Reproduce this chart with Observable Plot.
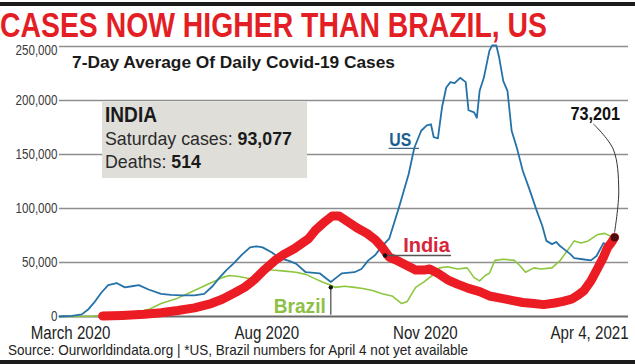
<!DOCTYPE html>
<html><head><meta charset="utf-8">
<script src="https://cdn.jsdelivr.net/npm/d3@7"></script>
<script src="https://cdn.jsdelivr.net/npm/@observablehq/plot@0.6"></script>
<style>
body{margin:0;background:#fff;}
#wrap{position:relative;width:635px;height:364px;overflow:hidden;font-family:"Liberation Sans",Arial,sans-serif;color:#222;}
.abs{position:absolute;white-space:nowrap;line-height:1;transform-origin:0 0;}
</style></head><body>
<div id="wrap">
  <div class="abs" style="left:0;top:2px;width:635px;height:4px;background:#1b1b1b"></div>
  <div class="abs fit" data-w="547" style="left:0;top:11px;line-height:0.8;font-size:35px;font-weight:bold;color:#e31e25;">CASES NOW HIGHER THAN BRAZIL, US</div>
  <div id="chart" class="abs" style="left:0;top:40px"></div>
  <div class="abs fit" data-w="323" style="left:72px;top:54px;font-size:17px;font-weight:bold;color:#1a1a1a;">7-Day Average Of Daily Covid-19 Cases</div>
  <div class="abs" style="left:102px;top:102px;width:205px;height:76px;background:#dfded9"></div>
  <div class="abs fit" data-w="52" style="left:105px;top:104px;font-size:22px;font-weight:bold;color:#1a1a1a;">INDIA</div>
  <div class="abs fit" data-w="187" style="left:105px;top:129px;font-size:19px;color:#2a2a2a;">Saturday cases: <b style="color:#1a1a1a">93,077</b></div>
  <div class="abs fit" data-w="96" style="left:105px;top:152px;font-size:19px;color:#2a2a2a;">Deaths: <b style="color:#1a1a1a">514</b></div>
  <div class="abs fit" data-w="460" style="left:8px;top:342px;font-size:15px;color:#222;">Source: Ourworldindata.org | *US, Brazil numbers for April 4 not yet available</div>
  <div class="abs" style="left:0;top:360px;width:635px;height:4px;background:#1b1b1b"></div>
</div>
<script>
// ---- data (values in thousands of cases, 7-day average) ----
const usDates = ["2020-03-01","2020-03-10","2020-03-17","2020-03-22","2020-03-26","2020-03-31","2020-04-05","2020-04-11","2020-04-17","2020-04-22","2020-04-27","2020-05-04","2020-05-13","2020-05-20","2020-05-28","2020-06-06","2020-06-13","2020-06-19","2020-06-24","2020-06-29","2020-07-04","2020-07-10","2020-07-16","2020-07-21","2020-07-25","2020-08-01","2020-08-06","2020-08-12","2020-08-18","2020-08-25","2020-09-04","2020-09-12","2020-09-16","2020-09-20","2020-09-29","2020-10-04","2020-10-09","2020-10-14","2020-10-18","2020-10-24","2020-10-31","2020-11-07","2020-11-11","2020-11-16","2020-11-20","2020-11-23","2020-11-25","2020-11-28","2020-12-01","2020-12-04","2020-12-07","2020-12-10","2020-12-14","2020-12-18","2020-12-20","2020-12-24","2020-12-26","2020-12-28","2020-12-31","2021-01-04","2021-01-06","2021-01-09","2021-01-11","2021-01-14","2021-01-17","2021-01-20","2021-01-24","2021-01-28","2021-02-02","2021-02-07","2021-02-11","2021-02-14","2021-02-18","2021-02-21","2021-02-24","2021-02-28","2021-03-03","2021-03-06","2021-03-12","2021-03-18","2021-03-22","2021-03-27","2021-03-31","2021-04-03"];
const usCasesK = [0,0.5,2,7,13,22,29,31,27,28,29,25,21,20,19.5,19.5,21,28,36,43,49,57,64,65,64,59,54,52,49,41,40,32,36,40,41,44,52,57,64,72,101,132,156,172,177,178,166,165,194,212,217,216,221,217,191,189,184,209,221,246,251,251,240,218,209,172,155,135,117,98,84,70,67,69,65,61,58,54,53,52,56,68,66,67];

const brazilDates = ["2020-03-01","2020-03-25","2020-04-10","2020-04-25","2020-05-05","2020-05-13","2020-05-25","2020-06-06","2020-06-16","2020-06-26","2020-07-01","2020-07-08","2020-07-16","2020-07-22","2020-07-25","2020-08-01","2020-08-10","2020-08-18","2020-08-25","2020-08-30","2020-09-06","2020-09-12","2020-09-15","2020-09-22","2020-09-29","2020-10-05","2020-10-12","2020-10-19","2020-10-26","2020-11-02","2020-11-06","2020-11-12","2020-11-18","2020-11-24","2020-11-29","2020-12-05","2020-12-12","2020-12-19","2020-12-24","2020-12-28","2021-01-01","2021-01-04","2021-01-08","2021-01-14","2021-01-22","2021-01-26","2021-01-30","2021-02-05","2021-02-10","2021-02-18","2021-02-24","2021-03-01","2021-03-06","2021-03-11","2021-03-16","2021-03-23","2021-03-28","2021-04-03"];
const brazilCasesK = [0,0.3,1.5,4,7,12,17,24,30,36,38,37,35,40,44,43,42,41,39,36,32,29,27,28,27,26,24,21,19,12,14,27,32,38,45,46,44,45,36,33,38,40,52,53,52,47,41,45,44,45,52,61,70,68,70,76,77,73];

const indiaDates = ["2020-04-01","2020-04-15","2020-05-01","2020-05-13","2020-05-25","2020-06-06","2020-06-18","2020-06-26","2020-07-05","2020-07-12","2020-07-19","2020-07-26","2020-08-03","2020-08-10","2020-08-17","2020-08-27","2020-09-01","2020-09-08","2020-09-13","2020-09-18","2020-09-24","2020-10-01","2020-10-08","2020-10-14","2020-10-19","2020-10-24","2020-10-31","2020-11-06","2020-11-12","2020-11-18","2020-11-22","2020-11-28","2020-12-05","2020-12-12","2020-12-20","2020-12-28","2021-01-04","2021-01-12","2021-01-20","2021-01-28","2021-02-05","2021-02-12","2021-02-20","2021-02-26","2021-03-04","2021-03-09","2021-03-13","2021-03-18","2021-03-23","2021-03-27","2021-03-30","2021-04-02","2021-04-04"];
const indiaCasesK = [0.5,1,2,3.5,5.5,8,12,16,22,27,34,43,52,58,63,72,80,88,93,93,88,82,77,71,64,55,51,47,43,43,44,40,34,30,26,23,19,17,15,13,12,11,12.5,14,16,20,24,33,45,55,64,69,73.201];

const yTicks = [0, 50000, 100000, 150000, 200000, 250000];
const tickDates = ["2020-03-09","2020-07-28","2020-11-19","2021-03-17"];
const tickLabels = ["March 2020","Aug 2020","Nov 2020","Apr 4, 2021"];

// annotation anchors (data coordinates)
const usLabel = {date:"2020-10-24", value:158300, text:"US"};
const usLeader = [{date:"2020-10-24", value:155600},{date:"2020-11-14", value:155600}];
const indiaLabel = {date:"2020-11-03", value:59300, text:"India"};
const indiaLeader = [{date:"2020-10-21", value:56500},{date:"2020-12-07", value:56500}];
const brazilLabel = {date:"2020-08-02", value:2800, text:"Brazil"};
const brazilLeader = [{date:"2020-09-12", value:27000},{date:"2020-09-12", value:2000}];
const endLabel = {date:"2021-04-08", value:181500, text:"73,201"};
const endLeader = [{date:"2021-03-20", value:178000},{date:"2021-04-03", value:155000},{date:"2021-04-07", value:117000},{date:"2021-04-04", value:78000}];

const parse = d3.utcParse("%Y-%m-%d");
const rows = (dates, vals) => dates.map((d, i) => ({date: parse(d), value: vals[i] * 1000}));
const pt = (o) => ({...o, date: parse(o.date)});
const us = rows(usDates, usCasesK);
const brazil = rows(brazilDates, brazilCasesK);
const india = rows(indiaDates, indiaCasesK);
const tDates = tickDates.map(parse);
const yMax = yTicks[yTicks.length - 1];

const FONT = '"Liberation Sans",Arial,sans-serif';
const yAxisOpts = {tickSize: 0, tickPadding: 2, tickFormat: d3.format(","), fontSize: 14, fill: "#3a3a3a", label: null};

const chart = Plot.plot({
  width: 635, height: 302,
  marginLeft: 59, marginRight: 7, marginTop: 6, marginBottom: 26,
  x: {type: "utc", domain: [parse("2020-03-01"), parse("2021-04-14")]},
  y: {domain: [0, yMax]},
  style: {fontFamily: FONT, fontSize: "14px", color: "#333", background: "transparent", overflow: "visible"},
  marks: [
    Plot.gridY(yTicks.filter(d => d > 0), {stroke: "#8e8e8e", strokeOpacity: 1, strokeWidth: 1.5}),
    Plot.ruleY([0], {stroke: "#6a6a6a", strokeWidth: 2}),
    Plot.axisY(yTicks.filter(d => d < yMax), yAxisOpts),
    Plot.axisY([yMax], {...yAxisOpts, dy: 4}),
    Plot.axisX(tDates, {tickSize: 0, tickPadding: 10, tickFormat: d => tickLabels[tDates.findIndex(t => +t === +d)], fontSize: 18, fill: "#222", label: null}),
    Plot.line(brazil, {x: "date", y: "value", stroke: "#8dc63f", strokeWidth: 1.6}),
    Plot.line(us, {x: "date", y: "value", stroke: "#2472a8", strokeWidth: 1.8}),
    Plot.line(india, {x: "date", y: "value", stroke: "#ec1c24", strokeWidth: 9, strokeLinecap: "round", strokeLinejoin: "round"}),
    Plot.dot([india[india.length - 1]], {x: "date", y: "value", r: 4, fill: "#4a0c0c", stroke: "none"}),
    Plot.line(usLeader.map(pt), {x: "date", y: "value", stroke: "#3d6a8a", strokeWidth: 1.3}),
    Plot.text([pt(usLabel)], {x: "date", y: "value", text: "text", textAnchor: "start", lineAnchor: "bottom", fontSize: 18, fontWeight: "bold", fill: "#1b5f90"}),
    Plot.line(indiaLeader.map(pt), {x: "date", y: "value", stroke: "#555", strokeWidth: 1.3}),
    Plot.dot([pt(indiaLeader[0])], {x: "date", y: "value", r: 2.2, fill: "#111"}),
    Plot.text([pt(indiaLabel)], {x: "date", y: "value", text: "text", textAnchor: "start", lineAnchor: "bottom", fontSize: 20, fontWeight: "bold", fill: "#d6263a"}),
    Plot.line(brazilLeader.map(pt), {x: "date", y: "value", stroke: "#555", strokeWidth: 1.3}),
    Plot.dot([pt(brazilLeader[0])], {x: "date", y: "value", r: 2.2, fill: "#111"}),
    Plot.text([pt(brazilLabel)], {x: "date", y: "value", text: "text", textAnchor: "start", lineAnchor: "bottom", fontSize: 21, fontWeight: "bold", fill: "#8dc045"}),
    Plot.line(endLeader.map(pt), {x: "date", y: "value", stroke: "#333", strokeWidth: 1, curve: "catmull-rom"}),
    Plot.text([pt(endLabel)], {x: "date", y: "value", text: "text", textAnchor: "end", lineAnchor: "bottom", fontSize: 17.5, fontWeight: "bold", fill: "#111"})
  ]
});
document.getElementById("chart").appendChild(chart);

// condensed look: horizontal squeeze of SVG texts around their anchor
const squeeze = {"US": 0.88, "India": 1, "Brazil": 0.91, "73,201": 0.93};
chart.querySelectorAll("text").forEach(t => {
  const txt = t.textContent;
  const k = squeeze[txt] ?? (/[A-Za-z]/.test(txt) ? 0.84 : 0.83);
  const x = parseFloat(t.getAttribute("x")) || 0;
  const tr = t.getAttribute("transform") || "";
  t.setAttribute("transform", `${tr} translate(${x},0) scale(${k},1) translate(${-x},0)`);
});
// HTML texts: squeeze to measured target widths
document.querySelectorAll(".fit").forEach(el => {
  const w = el.getBoundingClientRect().width;
  const k = (+el.dataset.w) / w;
  el.style.transform = `scaleX(${k})`;
});
</script>
</body></html>
